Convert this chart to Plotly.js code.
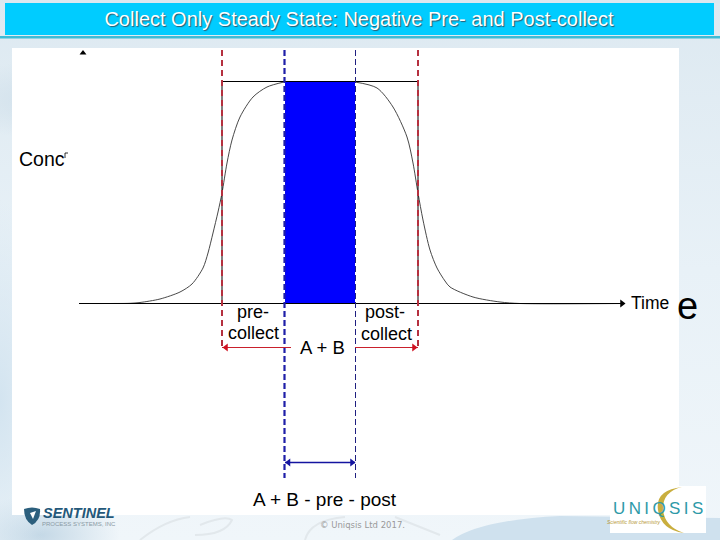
<!DOCTYPE html>
<html><head><meta charset="utf-8">
<script src="https://cdn.plot.ly/plotly-3.0.1.min.js"></script>
<style>
html,body{margin:0;padding:0;width:720px;height:540px;overflow:hidden;
background:
 radial-gradient(ellipse 60px 200px at 0px 400px,#d3e4f0 0,rgba(211,228,240,0) 100%),
 radial-gradient(ellipse 120px 40px at 60px 100px,#cfdfea 0,rgba(207,223,234,0) 100%),
 radial-gradient(ellipse 80px 40px at 40px 535px,#c4d8e6 0,rgba(196,216,230,0) 100%),
 linear-gradient(180deg,#dde9f1 0,#e8f1f7 50%,#f0f6fa 100%);}
#c{width:720px;height:540px}
</style></head><body><div id="c"></div>
<script>
const titleText = "Collect Only Steady State: Negative Pre- and Post-collect";
const riseX = [79,110,130,140,160,180,192,203,208,213,218,222,227,232,240,253,267,284];
const riseY = [303.5,303.5,303.3,302.5,299,292,284,268,253,233,212,193,163,140,117,97,87,82];
const fallX = [355,377,393,407,413,418,423,430,437,445,450,473,500,520,622];
const fallY = [82,88,107,137,163,193,220,250,268,281,287,297,302,303.5,303.5];
const plateauX = [222,418], plateauY = [81.5,81.5];
const axisX = [79,622], axisY = [303.5,303.5];
const preX = [222,222], postX = [418,418], dropY = [81.5,303.5];
const redDashY = [50,350];
const leftBlueX = [284.5,284.5], rightBlueX = [355.5,355.5], blueDashY = [50,478];
const bandX = [285,355,355,285,285], bandY = [82,82,303,303,82];
const preArrowX = [222,291], postArrowX = [355,418], redArrowY = [347.5,347.5];
const blueArrowX = [285,355], blueArrowY = [462.5,462.5];
const axisHeadX = [83,622], axisHeadY = [53,303.5];
const notchX = [65,65,68], notchY = [158,153,153];

const line = (x,y,color,width,dash,extra) => Object.assign({x,y,mode:'lines',line:{color,width,dash:dash||'solid'},hoverinfo:'skip',showlegend:false},extra||{});
const head = (x,y,sym,color,size) => ({x,y,mode:'markers',marker:{symbol:sym,color,size,line:{width:0}},hoverinfo:'skip',showlegend:false});
const smooth = {line:{color:'#333333',width:0.9,shape:'spline',smoothing:0.8}};

const traces = [
 line(bandX,bandY,'#0000FF',0,null,{fill:'toself',fillcolor:'#0000FF'}),
 line(riseX,riseY,'#333333',0.9,null,smooth),
 line(fallX,fallY,'#333333',0.9,null,smooth),
 line(plateauX,plateauY,'#000000',1.1),
 line(preX,dropY,'#000000',1),
 line(postX,dropY,'#000000',1),
 line(axisX,axisY,'#000000',1.2),
 line(preX,redDashY,'#B5303F',2,'6px,4px'),
 line(postX,redDashY,'#B5303F',2,'6px,4px'),
 line(leftBlueX,blueDashY,'#1F1FA8',2.2,'6px,3px'),
 line(rightBlueX,blueDashY,'#1F1F80',1,'6px,3px'),
 line(preArrowX,redArrowY,'#C9202C',1),
 line(postArrowX,redArrowY,'#C9202C',1),
 line(blueArrowX,blueArrowY,'#1414A0',1.3),
 head([226],[347.5],'triangle-left','#D01020',7),
 head([414],[347.5],'triangle-right','#D01020',7),
 head([288.5],[462.5],'triangle-left','#1414A0',7),
 head([352],[462.5],'triangle-right','#1414A0',7),
 head([axisHeadX[0]],[axisHeadY[0]],'triangle-up','#000000',6),
 head([axisHeadX[1]],[axisHeadY[1]],'triangle-right','#000000',7),
 line(notchX,notchY,'#000000',0.8)
];

const txt = (x,y,text,size,extra) => Object.assign({x,y,text,xref:'x',yref:'y',showarrow:false,xanchor:'center',yanchor:'middle',
  font:{family:'Liberation Sans, Arial, sans-serif',size,color:'#000'}},extra||{});
const annotations = [
 txt(42,159,'Conc',19.5),
 txt(253,312,'pre-',18),
 txt(253,333,'collect',18),
 txt(322,347,'A + B',18.5),
 txt(385,312,'post-',18),
 txt(386,334,'collect',18),
 txt(650,303,'Time',17.5),
 txt(687,306,'e',38),
 txt(325,499,'A + B - pre - post',19),
 txt(362,525,'© Uniqsis Ltd 2017.',9,{font:{family:'DejaVu Sans, sans-serif',size:8.5,color:'#9a9a9a'}}),
 txt(79,513,'SENTINEL',14.5,{font:{family:'Liberation Sans, sans-serif',size:14.5,color:'#24587A',weight:'bold',style:'italic'}}),
 txt(79,524,'PROCESS SYSTEMS, INC',6,{font:{family:'Liberation Sans, sans-serif',size:6,color:'#8a9aa5'}}),
 txt(658,508,'U\u2009N\u2009I\u2009Q\u2009S\u2009I\u2009S',17,{font:{family:'Liberation Sans, sans-serif',size:17,color:'#2E9AA8'}}),
 txt(634,522,'Scientific flow chemistry',5,{font:{family:'Liberation Sans, sans-serif',size:5,color:'#B79A3A',style:'italic'}})
];

const shapes = [
 {type:'path',path:'M 452 540 Q 480 520 560 516 L 720 518 L 720 540 Z',fillcolor:'#CFE1EE',line:{width:0},layer:'below'},
 {type:'rect',x0:0,x1:720,y0:0,y1:3,fillcolor:'#DCE8F0',line:{width:0},layer:'below'},
 {type:'rect',x0:5,x1:714,y0:3,y1:35,fillcolor:'#00CCFF',line:{width:0},layer:'below'},
 {type:'rect',x0:0,x1:720,y0:36,y1:38.5,fillcolor:'#3DBCD6',line:{width:0},layer:'below'},
 {type:'rect',x0:12,x1:679,y0:48,y1:515,fillcolor:'#FFFFFF',line:{width:0},layer:'below'},
 {type:'path',path:'M 140 540 Q 165 520 190 517 M 200 525 Q 225 515 232 520 Q 225 535 195 535 M 305 540 Q 310 520 345 517 M 395 517 L 440 535',line:{color:'#E2E8EC',width:2},layer:'below'},
 {type:'rect',x0:610,x1:706,y0:486,y1:533,fillcolor:'#FFFFFF',line:{width:0},layer:'below'},
 {type:'path',path:'M 682 487 Q 655 490 658 510 Q 661 530 684 533 Q 665 527 663 510 Q 662 492 682 487 Z',fillcolor:'#C9AE3E',line:{width:0},layer:'below'},
 {type:'path',path:'M 24 509 Q 32 506 40 509 Q 41 520 32 525 Q 24 520 24 509 Z',fillcolor:'#2C5F7D',line:{width:0},layer:'above'},
 {type:'path',path:'M 30 513 L 36 511 L 33 519 Z',fillcolor:'#FFFFFF',line:{width:0},layer:'above'}
];

const ax = r => ({range:r,visible:false,fixedrange:true,showgrid:false,zeroline:false});
Plotly.newPlot('c',traces,{
 width:720,height:540,margin:{l:0,r:0,t:0,b:0,pad:0},
 paper_bgcolor:'rgba(0,0,0,0)',plot_bgcolor:'rgba(0,0,0,0)',showlegend:false,
 title:{text:titleText,x:359/720,xref:'paper',xanchor:'center',y:1-19/540,yref:'container',yanchor:'middle',
   pad:{t:0,b:0,l:0,r:0},
   font:{family:'Liberation Sans, Arial, sans-serif',size:20,color:'#FFFFFF',shadow:'1px 1px 1px #2a5a70'}},
 xaxis:ax([0,720]),yaxis:ax([540,0]),
 shapes,annotations
},{displayModeBar:false,staticPlot:true});
</script></body></html>
